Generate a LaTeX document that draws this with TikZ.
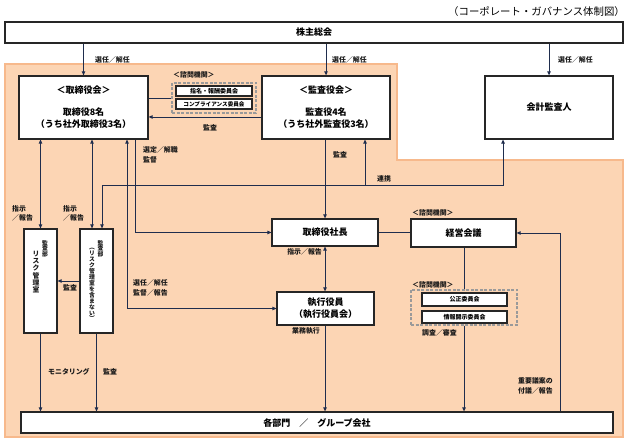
\documentclass[tikz,border=0pt]{standalone}
\usepackage{fontspec}
\setmainfont{Noto Sans CJK JP}
\usetikzlibrary{arrows.meta}
\definecolor{bgor}{HTML}{FCD5B4}
\definecolor{bgorb}{HTML}{F7B98C}
\definecolor{boxc}{HTML}{262626}
\definecolor{linec}{HTML}{1F2D4D}
\definecolor{dashc}{HTML}{9A9A9A}
\tikzset{
  box/.style={draw=boxc, line width=1.3pt, fill=white, inner sep=0pt, align=center,
    font=\fontsize{9}{12}\selectfont\bfseries},
  sbox/.style={draw=boxc, line width=1.1pt, fill=white, inner sep=0pt, align=center,
    font=\fontsize{6}{7}\selectfont\bfseries},
  dbox/.style={draw=dashc, line width=1.1pt, dash pattern=on 3pt off 1.5pt, inner sep=0pt},
  conn/.style={draw=linec, line width=0.9pt},
  arr/.style={conn, -{Triangle[length=4pt,width=3.6pt]}},
  darr/.style={conn, {Triangle[length=4pt,width=3.6pt]}-{Triangle[length=4pt,width=3.6pt]}},
  lbl/.style={font=\fontsize{6.9}{9.5}\selectfont\bfseries, inner sep=0pt, text=black!90, align=left},
  vtxt/.style={inner sep=0pt, align=center, anchor=north, text=black!90},
}
\begin{document}
\begin{tikzpicture}[x=1pt,y=-1pt]
\useasboundingbox (0,0) rectangle (629,443);
% background region
\fill[bgor, draw=bgorb, line width=1.2pt] (5,64) -- (397,64) -- (397,160) -- (623,160) -- (623,437) -- (5,437) -- cycle;

% title
\node[anchor=east, inner sep=0pt, font=\fontsize{10.4}{12}\selectfont] (title) at (625,12) {（コーポレート・ガバナンス体制図）};

% main boxes
\node[box, minimum width=618, minimum height=21] (soukai) at (314,32.5) {株主総会};
\node[box, minimum width=129, minimum height=63] (tb) at (83.5,107.5) {＜取締役会＞\\[10pt]取締役8名\\（うち社外取締役3名）};
\node[box, minimum width=128, minimum height=63] (kb) at (326,107.5) {＜監査役会＞\\[10pt]監査役4名\\（うち社外監査役3名）};
\node[box, minimum width=128, minimum height=63] (kaikei) at (549,107.5) {会計監査人};
\node[box, minimum width=106, minimum height=27] (shacho) at (325,232.5) {取締役社長};
\node[box, minimum width=105, minimum height=28] (keiei) at (463.5,233) {経営会議};
\node[box, minimum width=97, minimum height=33] (shikko) at (325.5,308.5) {執行役員\\（執行役員会）};
\node[box, minimum width=592, minimum height=21] (bumon) at (317,422.5) {各部門　／　グループ会社};
\node[box, minimum width=33, minimum height=104] (a1) at (40.5,281) {};
\node[box, minimum width=33, minimum height=104] (a2) at (96.5,281) {};

% vertical texts
\node[vtxt, font=\fontsize{5.8}{5.5}\selectfont\bfseries] (a1t1) at (45,240) {監\\査\\部};
\node[vtxt, font=\fontsize{6.8}{7.2}\selectfont\bfseries] (a1t2) at (36,251) {リ\\ス\\ク\\管\\理\\室};
\node[vtxt, font=\fontsize{5.8}{5.5}\selectfont\bfseries] (a2t1) at (100.5,240) {監\\査\\部};
\node[vtxt, font=\fontsize{5.8}{5.95}\selectfont\bfseries] (a2t2) at (92,248) {︵\\リ\\ス\\ク\\管\\理\\室\\を\\含\\ま\\な\\い\\︶};

% advisory groups
\node[dbox, minimum width=84, minimum height=30] (dash1) at (214,98) {};
\node[sbox, minimum width=76, minimum height=10] (c1) at (214,91) {指名・報酬委員会};
\node[sbox, minimum width=76, minimum height=10] (c2) at (214,104) {\fontsize{5.6}{7}\selectfont コンプライアンス委員会};
\node[dbox, minimum width=106, minimum height=35] (dash2) at (464,307.5) {};
\node[sbox, minimum width=85, minimum height=13] (c3) at (464.5,299.5) {公正委員会};
\node[sbox, minimum width=85, minimum height=12] (c4) at (464.5,317) {情報開示委員会};

% connectors
\draw[arr] (soukai.south -| tb.north) -- (tb.north);
\draw[arr] (soukai.south -| kb.north) -- (kb.north);
\draw[arr] (soukai.south -| kaikei.north) -- (kaikei.north);
\draw[conn] (tb.east |- dash1.west) -- (dash1.west);
\draw[arr] (kb.west |- 0,117) -- (tb.east |- 0,117);
\draw[arr] (kb.south -| shacho.north) -- (shacho.north);
\draw[darr] (shacho.south) -- (shacho.south |- shikko.north);
\draw[arr] (shikko.south -| shacho.south) -- (shacho.south |- bumon.north);
\draw[conn] (shacho.east) -- (keiei.west |- shacho.east);
\draw[arr] (bumon.north -| 560,0) |- (keiei.east);
\draw[conn] (keiei.south -| dash2.north) -- (dash2.north);
\draw[arr] (dash2.south) -- (dash2.south |- bumon.north);
\draw[darr] (tb.south -| a1.north) -- (a1.north);
\draw[darr] (tb.south -| 92,0) -- (a2.north -| 92,0);
\coordinate (rk) at (365,185);
\draw[darr] (kaikei.south -| 503,0) -- (503,185) -| (a2.north -| 102,0);
\draw[arr] (rk) -- (kb.south -| rk);
\draw[darr] (tb.south -| 127,0) |- (shikko.west);
\draw[arr] (tb.south -| 135,0) |- (shacho.west);
\draw[arr] (a2.west) -- (a1.east);
\draw[arr] (a1.south) -- (a1.south |- bumon.north);
\draw[arr] (a2.south) -- (a2.south |- bumon.north);

% labels
\node[lbl, anchor=west] (l1) at (95,60) {選任／解任};
\node[lbl, anchor=west] (l2) at (332,60) {選任／解任};
\node[lbl, anchor=west] (l3) at (558,60) {選任／解任};
\node[lbl] (l4) at (210,128) {監査};
\node[lbl, anchor=north west] (l5) at (143,146.5) {選定／解職\\監督};
\node[lbl, anchor=west] (l6) at (333,155) {監査};
\node[lbl, anchor=west] (l7) at (377,179) {連携};
\node[lbl, anchor=west] (l8) at (12,213.5) {指示\\／報告};
\node[lbl, anchor=west] (l9) at (63,213.5) {指示\\／報告};
\node[lbl] (l10) at (70,288) {監査};
\node[lbl, anchor=west] (l11) at (133,288) {選任／解任\\監督／報告};
\node[lbl, anchor=east] (l12) at (322,252) {指示／報告};
\node[lbl, anchor=east] (l13) at (320,330.5) {業務執行};
\node[lbl, anchor=west] (l14) at (173,75) {＜諮問機関＞};
\node[lbl, anchor=west] (l15) at (412,213) {＜諮問機関＞};
\node[lbl, anchor=west] (l16) at (412,285) {＜諮問機関＞};
\node[lbl, anchor=west] (l17) at (422,333) {調査／審査};
\node[lbl, anchor=west] (l18) at (518,386) {重要議案の\\付議／報告};
\node[lbl, anchor=west] (l19) at (48,372) {モニタリング};
\node[lbl, anchor=west] (l20) at (103,372) {監査};
\end{tikzpicture}
\end{document}
